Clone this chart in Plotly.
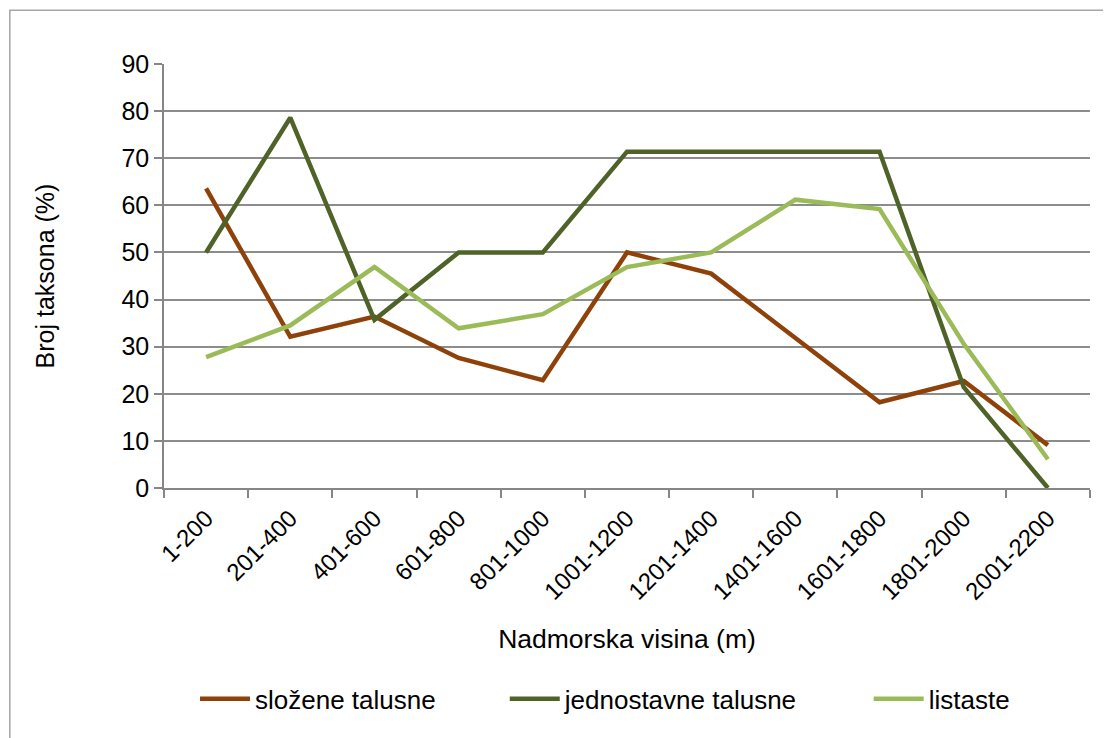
import plotly.graph_objects as go

categories = ["1-200", "201-400", "401-600", "601-800", "801-1000", "1001-1200",
              "1201-1400", "1401-1600", "1601-1800", "1801-2000", "2001-2200"]
slozene = [63.6, 32.1, 36.4, 27.6, 22.9, 50.0, 45.5, 31.8, 18.2, 22.7, 9.1]
jednostavne = [50.0, 78.6, 35.7, 50.0, 50.0, 71.4, 71.4, 71.4, 71.4, 21.4, 0.0]
listaste = [27.8, 34.5, 46.9, 33.9, 36.9, 46.9, 50.0, 61.2, 59.2, 30.6, 6.1]
series_names = ["složene talusne", "jednostavne talusne", "listaste"]
colors = ["#8E420A", "#4F6228", "#9BBB59"]
y_ticks = [0, 10, 20, 30, 40, 50, 60, 70, 80, 90]

FONT = "Liberation Sans, Arial, sans-serif"
legend_ids = ["legend", "legend2", "legend3"]
legend_x = [0.0335, 0.368, 0.761]

fig = go.Figure()
for name, vals, col, lid in zip(series_names, [slozene, jednostavne, listaste], colors, legend_ids):
    fig.add_trace(go.Scatter(x=categories, y=vals, name=name, mode="lines",
                             line=dict(color=col, width=4.5), legend=lid))

legend_common = dict(orientation="h", y=-0.497, xanchor="left", yanchor="middle",
                     font=dict(size=26, color="black"), itemwidth=50,
                     bgcolor="rgba(0,0,0,0)")

fig.update_layout(
    width=1103, height=730,
    margin=dict(l=156, r=21, t=56, b=250),
    paper_bgcolor="white", plot_bgcolor="white",
    font=dict(family=FONT, size=24, color="black"),
    showlegend=True,
    legend=dict(x=legend_x[0], **legend_common),
    legend2=dict(x=legend_x[1], **legend_common),
    legend3=dict(x=legend_x[2], **legend_common),
    xaxis=dict(
        type="category", range=[-0.5, 10.5], automargin=False,
        tickangle=-45, tickfont=dict(size=24), ticklabelstandoff=5,
        showline=True, linecolor="#868686", linewidth=1.5,
        ticks="outside", ticklen=8, tickcolor="#868686", tickwidth=1.5,
        tickson="boundaries", showgrid=False,
        title=dict(text="Nadmorska visina (m)", font=dict(size=26.5), standoff=26),
    ),
    yaxis=dict(
        range=[0, 90], tickvals=y_ticks, tickfont=dict(size=25), automargin=False,
        showline=True, linecolor="#868686", linewidth=1.5,
        ticks="outside", ticklen=8, tickcolor="#868686", tickwidth=1.5,
        showgrid=True, gridcolor="#8C8C8C", gridwidth=1.5, zeroline=False,
        title=dict(text="Broj taksona (%)", font=dict(size=25), standoff=60),
    ),
    shapes=[dict(type="rect", xref="paper", yref="paper",
                 x0=-0.1665, x1=1.03, y0=-0.62, y1=1.127,
                 line=dict(color="#A6A6A6", width=1.5), layer="below")],
)

fig.write_html("out.html")
